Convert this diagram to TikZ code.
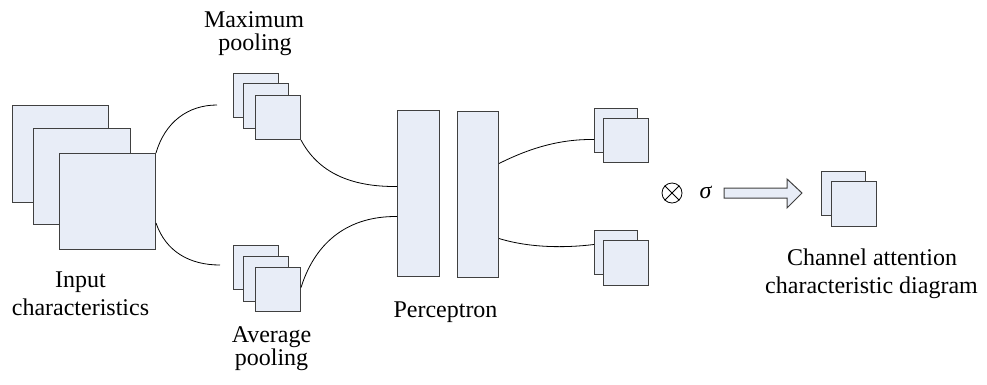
\documentclass[tikz,border=0pt]{standalone}
\usepackage{fontspec}
\setmainfont{Liberation Serif}
\definecolor{boxfill}{RGB}{232,237,247}
\definecolor{edge}{RGB}{64,64,64}
\begin{document}
\begin{tikzpicture}[x=1pt,y=-1pt,
  sq/.style={draw=edge, fill=boxfill, line width=1pt, inner sep=0pt, anchor=north west},
  link/.style={draw=black, line width=0.8pt},
  lbl/.style={font=\fontsize{24}{28}\selectfont, inner sep=0pt, anchor=base}]
\useasboundingbox (0,0) rectangle (987,384);
% input characteristics
\node[sq, minimum width=96pt, minimum height=97pt] (in1) at (12,105) {};
\node[sq, minimum width=97pt, minimum height=96pt] (in2) at (33,128) {};
\node[sq, minimum width=96pt, minimum height=96pt] (in3) at (59,153) {};
% maximum pooling
\node[sq, minimum width=45pt, minimum height=44pt] (mp1) at (233,73) {};
\node[sq, minimum width=45pt, minimum height=45pt] (mp2) at (243,83) {};
\node[sq, minimum width=45pt, minimum height=44pt] (mp3) at (255,95) {};
% average pooling
\node[sq, minimum width=45pt, minimum height=44pt] (ap1) at (233,245) {};
\node[sq, minimum width=45pt, minimum height=45pt] (ap2) at (243,256) {};
\node[sq, minimum width=45pt, minimum height=44pt] (ap3) at (255,267) {};
% perceptron
\node[sq, minimum width=42pt, minimum height=166pt] (p1) at (397,110) {};
\node[sq, minimum width=41pt, minimum height=166pt] (p2) at (457,111) {};
% outputs
\node[sq, minimum width=43pt, minimum height=44pt] (ot1) at (594,108) {};
\node[sq, minimum width=45pt, minimum height=44pt] (ot2) at (603,118) {};
\node[sq, minimum width=43pt, minimum height=44pt] (ob1) at (594,230) {};
\node[sq, minimum width=45pt, minimum height=45pt] (ob2) at (603,240) {};
% final
\node[sq, minimum width=44pt, minimum height=44pt] (f1) at (821,171) {};
\node[sq, minimum width=45pt, minimum height=45pt] (f2) at (831,181) {};
% free ends
\coordinate (e1) at (217,105);
\coordinate (e2) at (220,265);
% connectors
\draw[link] (in3.north east) .. controls (165,122) and (188,105) .. (e1);
\draw[link] ([yshift=-70pt]in3.north east) .. controls (166,252) and (190,265) .. (e2);
\draw[link] (mp3.south east) .. controls (318,172) and (350,187) .. ([yshift=7pt]p1.west);
\draw[link] ([yshift=2pt]ap3.east) .. controls (316,240) and (350,216) .. ([yshift=-23pt]p1.west);
\draw[link] ([yshift=31pt]p2.east) .. controls (530,148) and (560,139) .. ([yshift=-9pt]ot1.west);
\draw[link] ([yshift=-44pt]p2.east) .. controls (530,248) and (565,248) .. ([yshift=8pt]ob1.west);
% operators
\node[draw=black, line width=0.8pt, circle, minimum size=20pt, inner sep=0pt] (ot) at (672,193) {};
\draw[line width=0.8pt] (ot.north east) -- (ot.south west) (ot.north west) -- (ot.south east);
\node[lbl] (sig) at (705.5,198) {\itshape σ};
% block arrow
\draw[draw=edge, fill=boxfill, line width=1pt]
  (724,188) -- (787,188) -- (787,179) -- (802,193) -- (787,208) -- (787,198) -- (724,198) -- cycle;
% labels
\node[lbl] (lmax1) at (254,27) {Maximum};
\node[lbl] (lmax2) at (255,50) {pooling};
\node[lbl] (lin1) at (80.5,287) {Input};
\node[lbl] (lin2) at (80.5,315) {characteristics};
\node[lbl] (lav1) at (271.5,342) {Average};
\node[lbl] (lav2) at (271.5,365) {pooling};
\node[lbl] (lper) at (445.5,317) {Perceptron};
\node[lbl] (lch1) at (872,265) {Channel attention};
\node[lbl] (lch2) at (871.5,293) {characteristic diagram};
\end{tikzpicture}
\end{document}
